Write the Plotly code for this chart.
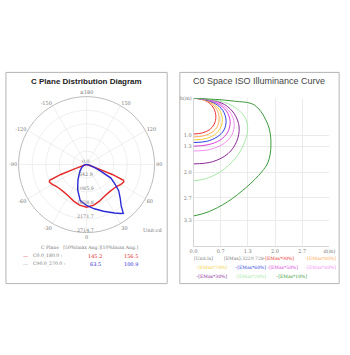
import plotly.graph_objects as go

W, H = 350, 355

# ---------------- data: C-plane polar distribution ----------------
radial_ticks = [0, 542.9, 1085.9, 1628.8, 2171.7, 2714.7]
radial_ticktext = ["0.0", "542.9", "1085.9", "1628.8", "2171.7", "2714.7"]
angle_ticks = [0, 30, 60, 90, 120, 150, 180, 210, 240, 270, 300, 330]
angle_ticktext = ["0", "30", "60", "90", "120", "150", "±180", "-150", "-120", "-90", "-60", "-30"]

red_theta = [-180, -120, -90, -80, -75, -71, -69, -67, -65, -60, -55, -50, -40, -30, -20, -10, 0,
             10, 20, 30, 40, 50, 55, 60, 65, 67, 69, 71, 75, 80, 90, 120, 180]
red_r = [0, 0, 10, 30, 100, 400, 1100, 1600, 1640, 1580, 1500, 1450, 1420, 1450, 1540, 1640, 1700,
         1640, 1540, 1450, 1420, 1450, 1500, 1580, 1640, 1600, 1100, 400, 100, 30, 10, 0, 0]

blue_theta = [-180, -120, -90, -75, -60, -45, -30, -20, -10, 0, 10, 20, 30, 35, 37, 40, 45, 51,
              55, 61, 65, 70, 80, 90, 120, 180]
blue_r = [0, 10, 40, 120, 220, 380, 680, 1050, 1460, 1630, 1790, 1980, 2230, 2380, 2436, 2150,
          1900, 1650, 1400, 1110, 640, 350, 120, 30, 0, 0]

plane_names = ["C0.0_180.0 :", "C90.0_270.0 :"]
ang50 = ["145.2", "63.5"]
ang10 = ["156.5", "100.9"]

# ---------------- data: iso illuminance curves ----------------
iso_labels = ["[EMax*90%]", "[EMax*80%]", "[EMax*70%]", "[EMax*60%]", "[EMax*50%]",
              "[EMax*40%]", "[EMax*30%]", "[EMax*20%]", "[EMax*10%]"]
iso_colors = ["#e8302c", "#ffaa55", "#f2cf3a", "#2f3fe0", "#d83cd8",
              "#f08ef0", "#8a2898", "#a6e8a6", "#3c9a3c"]
iso_x = [
    [0, 0.20, 0.38, 0.50, 0.55, 0.51, 0.40, 0.22, 0],
    [0, 0.22, 0.43, 0.57, 0.63, 0.59, 0.46, 0.25, 0],
    [0, 0.25, 0.48, 0.64, 0.71, 0.66, 0.52, 0.28, 0],
    [0, 0.28, 0.54, 0.72, 0.80, 0.75, 0.58, 0.32, 0],
    [0, 0.32, 0.60, 0.81, 0.90, 0.84, 0.66, 0.36, 0],
    [0, 0.36, 0.67, 0.90, 1.00, 0.94, 0.73, 0.40, 0],
    [0, 0.40, 0.76, 1.00, 1.12, 1.06, 0.85, 0.47, 0],
    [0, 0.50, 0.95, 1.25, 1.33, 1.27, 1.05, 0.65, 0.30, 0],
    [0, 0.50, 1.00, 1.50, 1.83, 1.90, 1.83, 1.67, 1.31, 0.83, 0.36, 0],
]
iso_y = [
    [0, 0.03, 0.12, 0.28, 0.50, 0.70, 0.85, 0.94, 0.97],
    [0, 0.03, 0.13, 0.30, 0.53, 0.76, 0.92, 1.02, 1.05],
    [0, 0.04, 0.14, 0.32, 0.57, 0.81, 0.99, 1.10, 1.13],
    [0, 0.04, 0.15, 0.33, 0.60, 0.86, 1.05, 1.17, 1.20],
    [0, 0.04, 0.15, 0.35, 0.63, 0.92, 1.13, 1.26, 1.30],
    [0, 0.04, 0.16, 0.38, 0.68, 1.00, 1.24, 1.39, 1.43],
    [0, 0.04, 0.17, 0.42, 0.78, 1.17, 1.50, 1.72, 1.78],
    [0, 0.05, 0.20, 0.50, 0.80, 1.15, 1.60, 2.00, 2.18, 2.24],
    [0, 0.03, 0.08, 0.19, 0.73, 1.27, 1.73, 2.00, 2.40, 2.81, 3.08, 3.19],
]
x_ticks = [0, 0.667, 1.333, 2.0, 2.667, 3.333]
x_ticktext = ["0.0", "0.7", "1.3", "2.0", "2.7", "d(m)"]
y_ticks = [0, 1.0, 1.3, 2.0, 2.7, 3.3]
y_ticktext = ["h(m)", "1.0", "1.3", "2.0", "2.7", "3.3"]
emax_text = "[EMax]:3229.728"
unit_lx = "[Unit:lx]"

SERIF = "DejaVu Serif"
SANS = "Liberation Sans"
TXT = "#777777"

# polar layout geometry (pixels)
PCX, PCY, PR = 85, 163, 70
R_MAX = radial_ticks[-1]

fig = go.Figure()

fig.add_trace(go.Scatterpolar(theta=red_theta, r=red_r, mode="lines",
                              line=dict(color="#e52a2a", width=1.4), subplot="polar",
                              showlegend=False, hoverinfo="skip"))
fig.add_trace(go.Scatterpolar(theta=blue_theta, r=blue_r, mode="lines",
                              line=dict(color="#2b2bd6", width=1.4), subplot="polar",
                              showlegend=False, hoverinfo="skip"))

for xs, ys, c in zip(iso_x, iso_y, iso_colors):
    fig.add_trace(go.Scatter(x=xs, y=ys, mode="lines", line=dict(color=c, width=1, shape="spline"),
                             xaxis="x", yaxis="y", showlegend=False, hoverinfo="skip"))

px = lambda v: v / W
py = lambda v: 1 - v / H

fig.update_layout(
    width=W, height=H, margin=dict(l=0, r=0, t=0, b=0),
    paper_bgcolor="white", plot_bgcolor="white",
    hovermode=False, dragmode=False,
    polar=dict(
        domain=dict(x=[px(PCX - PR), px(PCX + PR)], y=[py(PCY + PR), py(PCY - PR)]),
        bgcolor="white",
        angularaxis=dict(rotation=270, direction="counterclockwise",
                         tickmode="array", tickvals=angle_ticks, ticktext=angle_ticktext,
                         tickfont=dict(size=5, family=SERIF, color=TXT),
                         gridcolor="#e4e4e4", gridwidth=0.6, linecolor="#aaaaaa", linewidth=0.8,
                         ticks="", showline=True),
        radialaxis=dict(range=[0, R_MAX], angle=270,
                        tickmode="array", tickvals=radial_ticks, ticktext=radial_ticktext,
                        showticklabels=False,
                        gridcolor="#e4e4e4", gridwidth=0.6, showline=False, ticks=""),
    ),
    xaxis=dict(domain=[px(195), px(335)], range=[0, 3.333], tickmode="array",
               tickvals=x_ticks, ticktext=x_ticktext, showgrid=True, gridcolor="#e6e6e6",
               gridwidth=0.8, zeroline=False, showline=True, linecolor="#cccccc", linewidth=0.8,
               tickfont=dict(size=5, family=SERIF, color=TXT), ticks=""),
    yaxis=dict(domain=[py(245), py(96)], range=[4.0, 0], tickmode="array",
               tickvals=y_ticks, ticktext=y_ticktext, showgrid=True, gridcolor="#e6e6e6",
               gridwidth=0.8, zeroline=False, showline=True, linecolor="#cccccc", linewidth=0.8,
               tickfont=dict(size=5, family=SERIF, color=TXT), ticks=""),
)

shapes = [
    dict(type="rect", xref="paper", yref="paper", x0=px(2), x1=px(168), y0=py(283), y1=py(70),
         line=dict(color="#b5b5b5", width=1)),
    dict(type="rect", xref="paper", yref="paper", x0=px(181), x1=px(345), y0=py(283), y1=py(70),
         line=dict(color="#b5b5b5", width=1)),
]
fig.update_layout(shapes=shapes)

ann = []
def T(x, y, text, size=5, color=TXT, family=SERIF, xanchor="center", yanchor="middle"):
    ann.append(dict(x=px(x), y=py(y), xref="paper", yref="paper", text=text, showarrow=False,
                    font=dict(size=size, color=color, family=family), xanchor=xanchor,
                    yanchor=yanchor))

# radial tick labels, placed along the nadir radius from the radial scale
for v, t in zip(radial_ticks, radial_ticktext):
    T(PCX - 1, PCY + v / R_MAX * PR + 1, t, size=4.8, yanchor="bottom")

T(85, 79, "<b>C Plane Distribution Diagram</b>", size=8, color="#222222", family=SANS)
T(263, 79, "C0 Space ISO Illuminance Curve", size=9, color="#444444", family=SANS)
T(166, 229, "Unit:cd", xanchor="right")

# left legend
T(88, 247, "C Plane   [50%Imax Ang.][10%Imax Ang.]", size=4.6)
row_y = [255, 263]
row_col = ["#e52a2a", "#2b2bd6"]
for i in range(2):
    T(18, row_y[i], "—", color=row_col[i] if i == 0 else "#aaaaaa", xanchor="left")
    T(28, row_y[i], plane_names[i], xanchor="left", size=4.6)
    T(94, row_y[i], ang50[i], color=row_col[i])
    T(131, row_y[i], ang10[i], color=row_col[i])

# right legend
T(205, 258, unit_lx, size=4.5)
T(247, 258, emax_text, size=4.5)
pos = [(265, 258), (308, 258), (196, 267), (236, 267), (269, 267), (308, 267),
       (196, 276), (236, 276), (278, 276)]
for (x, y), lab, c in zip(pos, iso_labels, iso_colors):
    T(x, y, "–" + lab, color=c, xanchor="left", size=4.5)

fig.update_layout(annotations=ann)
fig.write_html("out.html", config={"staticPlot": True, "displayModeBar": False})
